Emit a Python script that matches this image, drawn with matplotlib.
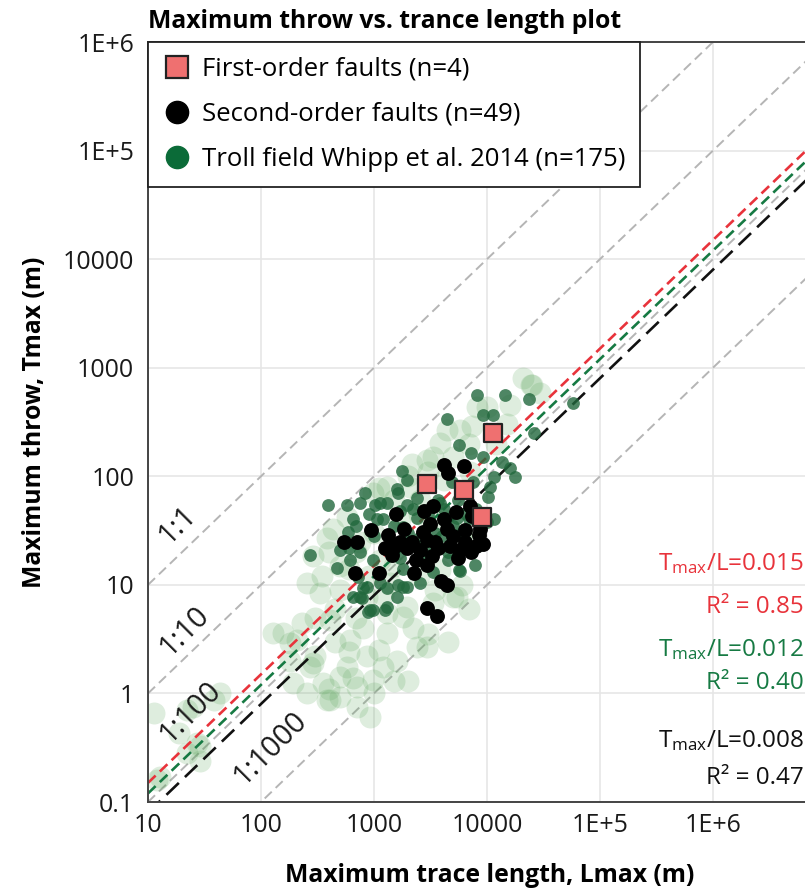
import matplotlib
matplotlib.use('Agg')
import matplotlib.pyplot as plt
from matplotlib.lines import Line2D
import numpy as np

plt.rcParams['font.family'] = ['Open Sans', 'DejaVu Sans']
plt.rcParams['mathtext.fontset'] = 'custom'
plt.rcParams['mathtext.rm'] = 'Open Sans'
plt.rcParams['mathtext.it'] = 'Open Sans:italic'

# first-order faults (n=4)
first_L = [11300, 2940, 6250, 9030]
first_T = [250, 85, 75, 42]

# second-order faults (n=49)
second_L = [4160, 4520, 6250, 3330, 2770, 1570, 7070, 7360, 940, 543,
            708, 1330, 1700, 1960, 2170, 2720, 3130, 2940, 3470, 4160,
            4430, 5000, 6380, 8500, 9220, 7220, 5540, 1440, 2360, 2940,
            2260, 1110, 680, 3920, 4430, 2940, 3610, 5650, 8670, 3680,
            2550, 4710, 1540, 6380, 8000, 3260, 1840, 5320, 1250]
second_T = [127, 107, 124, 53, 48, 45, 53, 43, 32, 25,
            25, 29, 25, 22, 25, 31, 36, 26, 25, 40,
            33, 28, 25, 29, 24, 20, 17.7, 19, 16.9, 15.2,
            12.8, 12.8, 12.8, 10.8, 10.0, 6.1, 5.2, 21, 33, 22,
            21, 23, 23, 32, 23, 18.4, 33, 47, 22]

# Troll field, Whipp et al. 2014
whipp_L = [8160, 14400, 23600, 9220, 11300, 4430, 5650, 7220, 9220, 13600,
           16000, 17700, 26100, 57700, 1770, 4900, 10200, 11500, 832, 1020,
           1300, 577, 752, 1960, 1630, 590, 614, 272, 979, 1960,
           752, 922, 1250, 5650, 7830, 5770, 880, 1630, 780, 392,
           1130, 650, 1060, 1800, 2400, 5400, 10000, 500, 752, 1700,
           4500, 1130, 1800, 800, 650, 1300, 980, 1600, 2550, 471,
           720, 870, 1300, 1960, 1600, 2400, 3840, 10600, 7500, 11500,
           2000, 2500, 3000, 3500, 4000, 4500, 5000, 6000, 7000, 1500,
           1200, 900, 2200, 3000, 3700, 4200, 5500, 6500, 8000, 2800,
           1800, 3300, 1400, 1000, 700, 600, 1700]
whipp_T = [560, 560, 514, 366, 366, 336, 194, 164, 150, 135,
           119, 98, 250, 472, 112, 88, 65, 40, 70, 54,
           57, 54, 57, 54, 70, 31, 16.9, 19, 16.9, 9.5,
           7.7, 5.9, 5.9, 13.7, 15.2, 13.3, 5.6, 10.0, 7.6, 54,
           57, 40, 40, 34, 41, 41, 38, 21, 20, 17.7,
           16.9, 10.4, 9.5, 9.4, 7.7, 6.3, 5.9, 7.7, 10.4, 14.3,
           11.8, 9.5, 9.4, 93, 76, 63, 57, 80, 88, 98,
           30, 27, 22, 30, 28, 20, 35, 30, 40, 35,
           40, 45, 50, 45, 60, 50, 60, 45, 50, 18,
           14, 13, 25, 28, 35, 22, 48]

# wider Whipp et al. population (faint background)
cloud_L = [20800, 29400, 10000, 5770, 3840, 3330, 2080, 1300, 980, 577,
           384, 255, 333, 500, 867, 1390, 1960, 3330, 5000, 288,
           434, 157, 128, 208, 288, 192, 255, 384, 11.4, 25,
           43, 19, 27, 12.8, 181, 272, 354, 500, 708, 922,
           408, 867, 1300, 1807, 2944, 2404, 1200, 577, 979, 708,
           500, 22, 38, 29, 22, 29, 12, 752, 1700, 2550,
           1130, 3840, 408, 614, 2170, 4160, 7070, 600, 450, 300,
           800, 1100, 1500, 24400, 8160, 7400, 4430, 2944, 1100, 5400,
           15000, 12000, 7000, 5000, 3000, 2000, 1500, 2500, 4000, 6000,
           8000, 1000, 700, 500, 350, 400, 900, 1500, 2500, 3500,
           6000, 7000, 700, 1300, 2200, 3000, 450, 300, 600, 1000,
           1600, 2000, 400, 650, 180, 230, 1200, 16000, 25000, 4500]
cloud_T = [802, 583, 434, 266, 202, 150, 80, 80, 70, 42,
           27, 10.4, 8.4, 9.0, 7.7, 10.4, 6.3, 6.8, 7.7, 18.4,
           33, 3.6, 3.6, 3.1, 1.9, 1.25, 1.01, 0.87, 0.66, 0.75,
           1.01, 0.43, 0.35, 0.17, 2.9, 1.75, 1.25, 0.93, 0.75, 0.61,
           0.87, 2.2, 3.6, 5.1, 2.7, 2.7, 1.75, 1.75, 1.33, 1.15,
           1.42, 0.70, 0.87, 0.33, 0.28, 0.24, 0.16, 25, 40, 60,
           17, 13.7, 4.7, 3.1, 130, 92, 110, 14, 6, 5,
           4, 2.5, 1.3, 700, 434, 290, 266, 140, 78, 7.7,
           300, 200, 200, 150, 110, 100, 60, 45, 40, 30,
           25, 30, 20, 15, 12, 20, 12, 15, 12, 9,
           10, 6, 5, 5.5, 4, 3.5, 3, 2.2, 2.4, 1,
           2, 1.3, 1.1, 1.4, 2.0, 4.5, 8, 450, 700, 3]

ratios = [1, 0.1, 0.01, 0.001]
ratio_labels = ['1:1', '1:10', '1:100', '1:1000']

fit_ratios = [0.015, 0.012, 0.008]
fit_r2 = ['0.85', '0.40', '0.47']
fit_colors = ['#e8333b', '#167a43', '#111111']

x_ticks = [10, 100, 1000, 10000, 1e5, 1e6]
x_ticklabels = ['10', '100', '1000', '10000', '1E+5', '1E+6']
y_ticks = [0.1, 1, 10, 100, 1000, 10000, 1e5, 1e6]
y_ticklabels = ['0.1', '1', '10', '100', '1000', '10000', '1E+5', '1E+6']

W, H = 805, 892
fig = plt.figure(figsize=(W / 100, H / 100), dpi=100)
ax = fig.add_axes([148 / W, 90 / H, 678 / W, 760 / H])
ax.set_xscale('log')
ax.set_yscale('log')
ax.set_xlim(10, 1e7)
ax.set_ylim(0.1, 1e6)

ax.set_xticks(x_ticks)
ax.set_xticklabels(x_ticklabels)
ax.set_yticks(y_ticks)
ax.set_yticklabels(y_ticklabels)
ax.minorticks_off()
ax.tick_params(length=0, labelsize=18, colors='#1a1a1a')
ax.tick_params(axis='x', pad=8)
ax.tick_params(axis='y', pad=10)
ax.grid(True, color='#e6e6e6', lw=1.2, zorder=0)
ax.set_axisbelow(True)
for s in ax.spines.values():
    s.set_color('#444444')
    s.set_linewidth(1.4)

xs = np.array([10, 1e7])
for r in ratios:
    ax.plot(xs, xs * r, color='#b5b5b5', lw=1.4, dashes=(5, 2.8), zorder=1.5)

label_xy = [(18.4, 35.6), (20.8, 3.76), (23.6, 0.675), (120, 0.314)]
for lab, (lx, ly) in zip(ratio_labels, label_xy):
    ax.text(lx, ly, lab, rotation=45, ha='center', va='center',
            fontsize=21, color='#1a1a1a', rotation_mode='anchor')

ax.scatter(cloud_L, cloud_T, s=250, color='#5aa55a', alpha=0.2,
           linewidths=0, zorder=2)

fit_dashes = [(4, 2.2), (4, 2.2), (6.5, 3.2)]
for r, c, d in zip(fit_ratios, fit_colors, fit_dashes):
    ax.plot(xs, xs * r, color=c, lw=1.9, dashes=d, zorder=2.5)

ax.scatter(whipp_L, whipp_T, s=85, color='#22683d', alpha=0.8,
           linewidths=0, zorder=3)
ax.scatter(second_L, second_T, s=115, color='black', linewidths=0, zorder=4)
ax.scatter(first_L, first_T, s=155, marker='s', color='#ef7070',
           edgecolors='#222222', linewidths=1.6, zorder=5)

handles = [
    Line2D([], [], ls='none', marker='s', ms=16, mfc='#ef7070',
           mec='#222222', mew=1.6),
    Line2D([], [], ls='none', marker='o', ms=16, mfc='black', mec='black'),
    Line2D([], [], ls='none', marker='o', ms=16, mfc='#0b6b38', mec='#0b6b38'),
]
labels = ['First-order faults (n=4)', 'Second-order faults (n=49)',
          'Troll field Whipp et al. 2014 (n=175)']
leg = ax.legend(handles, labels, loc='upper left', bbox_to_anchor=(0, 1),
                borderaxespad=0, fancybox=False, framealpha=1,
                edgecolor='#222222', fontsize=18.5, handletextpad=0.41,
                labelspacing=0.79, borderpad=0.57, handlelength=1.12)
leg.get_frame().set_linewidth(1.3)
leg.set_zorder(10)

ax.set_xlabel('Maximum trace length, Lmax (m)', fontsize=17.8,
              fontweight='bold')
ax.xaxis.set_label_coords((490 - 148) / 678, -74 / 760)
ax.xaxis.label.set_va('center')
ax.set_ylabel('Maximum throw, Tmax (m)', fontsize=17.8, fontweight='bold')
ax.yaxis.set_label_coords(-(148 - 35) / 678, 0.5)
ax.yaxis.label.set_va('center')

fig.text(148 / W, 1 - 28 / H, 'Maximum throw vs. trance length plot',
         fontsize=17.8, fontweight='bold', va='baseline', ha='left')

# ratio annotations, right side
text_rows = [(570, 607), (656, 683), (747, 778)]
for r, r2, c, (y1, y2) in zip(fit_ratios, fit_r2, fit_colors, text_rows):
    fig.text(804 / W, 1 - y1 / H, r'T$_{\mathrm{max}}$/L=' + f'{r:.3f}',
             fontsize=17.5, color=c, ha='right', va='baseline')
    fig.text(804 / W, 1 - y2 / H, 'R\u00b2 = ' + r2,
             fontsize=17.5, color=c, ha='right', va='center')

fig.savefig('out.png', dpi=100)
